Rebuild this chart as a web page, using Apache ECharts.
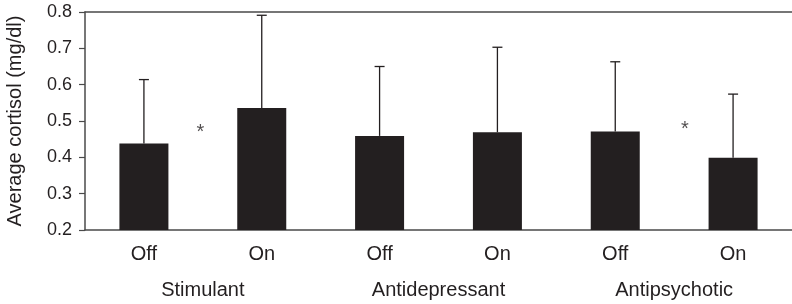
<!DOCTYPE html>
<html>
<head>
<meta charset="utf-8">
<script src="https://cdn.jsdelivr.net/npm/echarts@6/dist/echarts.min.js"></script>
<style>
html,body{margin:0;padding:0;background:#fff;}
#chart{width:792px;height:304px;}
</style>
</head>
<body>
<div id="chart"></div>
<script>
// ---- data ----
var conditions = ['Off', 'On', 'Off', 'On', 'Off', 'On'];
var groups = ['Stimulant', 'Antidepressant', 'Antipsychotic'];
var meanCortisol = [0.438, 0.536, 0.459, 0.469, 0.471, 0.399];
var sdCortisol = [0.176, 0.255, 0.191, 0.234, 0.192, 0.175];
var yTicks = [0.2, 0.3, 0.4, 0.5, 0.6, 0.7, 0.8];
// significance markers, in data coordinates (category index, value)
var sigMarkers = [[0.48, 0.469], [4.59, 0.477]];

var ink = '#231f20';
var axisGray = '#4a4a4a';
var font = 'Liberation Sans, Arial, Helvetica, sans-serif';

var chart = echarts.init(document.getElementById('chart'), null, {renderer: 'canvas'});

var errData = meanCortisol.map(function (m, i) { return [i, m, m + sdCortisol[i]]; });

chart.setOption({
  animation: false,
  backgroundColor: '#ffffff',
  grid: {left: 85, right: 0, top: 12, bottom: 74, containLabel: false, outerBoundsMode: 'none'},
  xAxis: [
    {
      type: 'category', data: conditions, position: 'bottom',
      axisLine: {show: true, lineStyle: {color: axisGray, width: 1.5}},
      axisTick: {show: false},
      axisLabel: {color: ink, fontFamily: font, fontSize: 20, margin: 14}
    },
    {
      type: 'category', data: groups, position: 'bottom', offset: 36,
      axisLine: {show: false}, axisTick: {show: false},
      axisLabel: {color: ink, fontFamily: font, fontSize: 20, margin: 14}
    },
    {
      type: 'value', min: -0.5, max: 5.5, show: false
    },
    {
      type: 'category', data: conditions, position: 'top',
      axisLine: {show: true, lineStyle: {color: axisGray, width: 1.5}},
      axisTick: {show: false}, axisLabel: {show: false}
    }
  ],
  yAxis: {
    type: 'value', min: yTicks[0], max: yTicks[yTicks.length - 1], interval: 0.1,
    name: 'Average cortisol (mg/dl)', nameLocation: 'middle', nameGap: 60,
    nameTextStyle: {color: ink, fontFamily: font, fontSize: 20},
    axisLine: {show: true, onZero: false, lineStyle: {color: axisGray, width: 1.5}},
    axisTick: {show: true, inside: false, length: 6, lineStyle: {color: axisGray, width: 1.2}},
    splitLine: {show: false},
    axisLabel: {color: ink, fontFamily: font, fontSize: 18, margin: 13,
      formatter: function (v) { return v.toFixed(1); }}
  },
  series: [
    {
      type: 'bar', data: meanCortisol, barWidth: 49,
      itemStyle: {color: ink}, xAxisIndex: 0, yAxisIndex: 0, z: 2
    },
    {
      type: 'custom', xAxisIndex: 0, yAxisIndex: 0, data: errData, z: 3,
      renderItem: function (params, api) {
        var x = api.value(0);
        var p0 = api.coord([x, api.value(1)]);
        var p1 = api.coord([x, api.value(2)]);
        var half = 5;
        return {
          type: 'group',
          children: [
            {type: 'line', shape: {x1: p0[0], y1: p0[1], x2: p1[0], y2: p1[1]},
             style: {stroke: ink, lineWidth: 1.3}},
            {type: 'line', shape: {x1: p1[0] - half, y1: p1[1], x2: p1[0] + half, y2: p1[1]},
             style: {stroke: ink, lineWidth: 1.3}}
          ]
        };
      }
    },
    {
      type: 'scatter', xAxisIndex: 2, yAxisIndex: 0, data: sigMarkers,
      symbolSize: 0, silent: true,
      label: {show: true, position: 'inside', formatter: '*', color: ink,
        fontFamily: font, fontSize: 20}
    }
  ]
});
</script>
</body>
</html>
